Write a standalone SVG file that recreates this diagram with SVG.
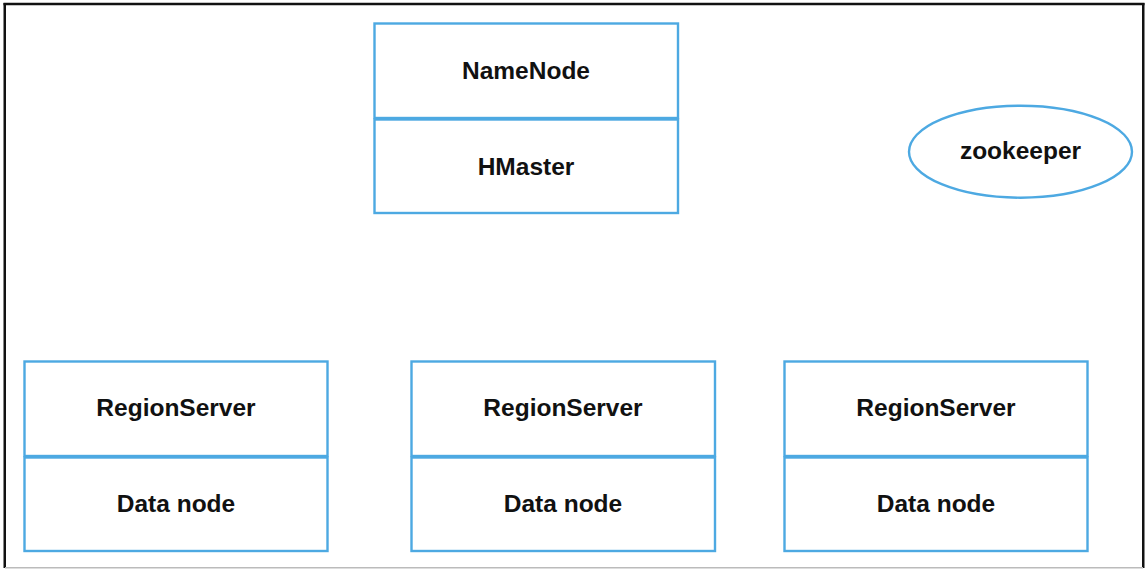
<svg xmlns="http://www.w3.org/2000/svg" width="1146" height="569" viewBox="0 0 1146 569">
  <style>
    .box { fill: #ffffff; stroke: #4DA9E2; stroke-width: 2.4; }
    .oval { fill: #ffffff; stroke: #4DA9E2; stroke-width: 2.4; }
    .label { font-family: "Liberation Sans", Arial, sans-serif; font-weight: bold; font-size: 24.5px; fill: #111111; text-anchor: middle; }
  </style>
  <rect x="0" y="0" width="1146" height="569" fill="#ffffff"/>
  <!-- frame -->
  <g id="frame" fill="none">
    <line x1="4.75" y1="3" x2="4.75" y2="568" stroke="#111111" stroke-width="2.5"/>
    <line x1="3.5" y1="4" x2="1144.5" y2="4" stroke="#111111" stroke-width="2.5"/>
    <line x1="1143.25" y1="3" x2="1143.25" y2="568" stroke="#111111" stroke-width="2.5"/>
    <line x1="5" y1="567.8" x2="1143" y2="567.8" stroke="#bbbbbb" stroke-width="1.5"/>
  </g>

  <g id="master">
    <rect class="box" x="374.5" y="23.5" width="303.5" height="94.5"/>
    <rect class="box" x="374.5" y="119.5" width="303.5" height="93.5"/>
    <text class="label" x="526" y="78.5">NameNode</text>
    <text class="label" x="526" y="174.5">HMaster</text>
  </g>

  <g id="zookeeper">
    <ellipse class="oval" cx="1020.5" cy="151.7" rx="111.5" ry="46"/>
    <text class="label" x="1020.5" y="159">zookeeper</text>
  </g>

  <g id="region1">
    <rect class="box" x="24.5" y="361.5" width="303" height="94.5"/>
    <rect class="box" x="24.5" y="457.5" width="303" height="93.5"/>
    <text class="label" x="176" y="415.5">RegionServer</text>
    <text class="label" x="176" y="511.5">Data node</text>
  </g>

  <g id="region2">
    <rect class="box" x="411.5" y="361.5" width="303.5" height="94.5"/>
    <rect class="box" x="411.5" y="457.5" width="303.5" height="93.5"/>
    <text class="label" x="563" y="415.5">RegionServer</text>
    <text class="label" x="563" y="511.5">Data node</text>
  </g>

  <g id="region3">
    <rect class="box" x="784.5" y="361.5" width="303" height="94.5"/>
    <rect class="box" x="784.5" y="457.5" width="303" height="93.5"/>
    <text class="label" x="936" y="415.5">RegionServer</text>
    <text class="label" x="936" y="511.5">Data node</text>
  </g>

  <g id="connectors"></g>
</svg>
